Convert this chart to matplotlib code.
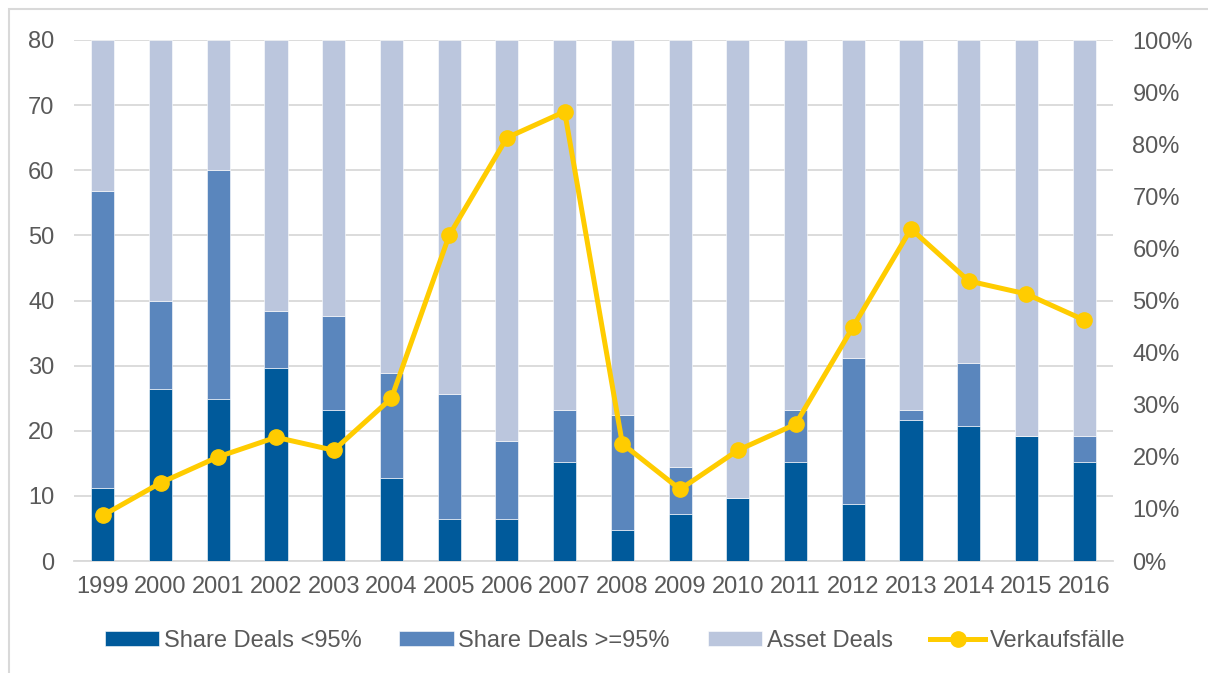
import matplotlib
matplotlib.use('Agg')
import matplotlib.pyplot as plt
from matplotlib.patches import Rectangle
from matplotlib.ticker import FuncFormatter
import numpy as np

plt.rcParams['font.family'] = ['Liberation Sans', 'DejaVu Sans']

years = ['1999', '2000', '2001', '2002', '2003', '2004', '2005', '2006', '2007',
         '2008', '2009', '2010', '2011', '2012', '2013', '2014', '2015', '2016']
# shares in percent (right axis)
share_lt95 = [14, 33, 31, 37, 29, 16, 8, 8, 19, 6, 9, 12, 19, 11, 27, 26, 24, 19]
share_ge95 = [57, 17, 44, 11, 18, 20, 24, 15, 10, 22, 9, 0, 10, 28, 2, 12, 0, 5]
asset_deals = [29, 50, 25, 52, 53, 64, 68, 77, 71, 72, 82, 88, 71, 61, 71, 62, 76, 76]
# number of sales (left axis)
verkaufsfaelle = [7, 12, 16, 19, 17, 25, 50, 65, 69, 18, 11, 17, 21, 36, 51, 43, 41, 37]

c_dark = '#005A9B'
c_mid = '#5A86BD'
c_light = '#BBC6DD'
c_line = '#FFCC00'
c_text = '#595959'
c_grid = '#D9D9D9'

W, H = 1208, 673
fig = plt.figure(figsize=(W / 100, H / 100), dpi=100)
ax = fig.add_axes([74 / W, 1 - 561 / H, (1113 - 74) / W, (561 - 40) / H])
x = np.arange(len(years))

# left axis: gridlines + tick labels
ax.set_ylim(0, 80)
ax.set_yticks(range(0, 81, 10))
ax.set_xlim(-0.5, len(years) - 0.5)
ax.grid(axis='y', color=c_grid, linewidth=1.3)
ax.set_axisbelow(True)

# right axis: stacked percent bars
ax2 = ax.twinx()
w = 0.4
b1 = ax2.bar(x, share_lt95, w, color=c_dark, edgecolor='white', linewidth=0.4,
             label='Share Deals <95%')
b2 = ax2.bar(x, share_ge95, w, bottom=share_lt95, color=c_mid, edgecolor='white',
             linewidth=0.4, label='Share Deals >=95%')
bottom3 = np.array(share_lt95) + np.array(share_ge95)
b3 = ax2.bar(x, asset_deals, w, bottom=bottom3, color=c_light, edgecolor='white',
             linewidth=0.4, label='Asset Deals')
ax2.set_ylim(0, 100)
ax2.set_yticks(range(0, 101, 10))
ax2.yaxis.set_major_formatter(FuncFormatter(lambda v, p: f'{int(v)}%'))

# line on top, same scale as left axis
ax3 = ax.twinx()
ax3.set_ylim(0, 80)
ln, = ax3.plot(x, verkaufsfaelle, color=c_line, linewidth=3.6, marker='o',
               markersize=11, label='Verkaufsfälle')
ax3.set_yticks([])

for a in (ax, ax2, ax3):
    for s in a.spines.values():
        s.set_visible(False)
    a.tick_params(length=0, labelsize=17, colors=c_text)
ax.set_xticks(x)
ax.set_xticklabels(years)
ax.tick_params(axis='x', pad=11)
ax.tick_params(axis='y', pad=14)
ax2.tick_params(axis='y', pad=14)
ax.spines['bottom'].set_visible(True)
ax.spines['bottom'].set_color(c_grid)
ax.spines['bottom'].set_linewidth(1.3)

fig.legend(handles=[b1, b2, b3, ln], loc='center', bbox_to_anchor=(0.509, 1 - 641 / H),
           ncol=4, frameon=False, fontsize=17, labelcolor=c_text,
           handlelength=2.3, handleheight=0.6, handletextpad=0.2,
           columnspacing=1.6)

fig.patches.append(Rectangle((9 / W, -0.02), 1.0, 1 - 9 / H + 0.02,
                             transform=fig.transFigure, fill=False,
                             edgecolor=c_grid, linewidth=1.5))

fig.savefig('out.png', dpi=100)
